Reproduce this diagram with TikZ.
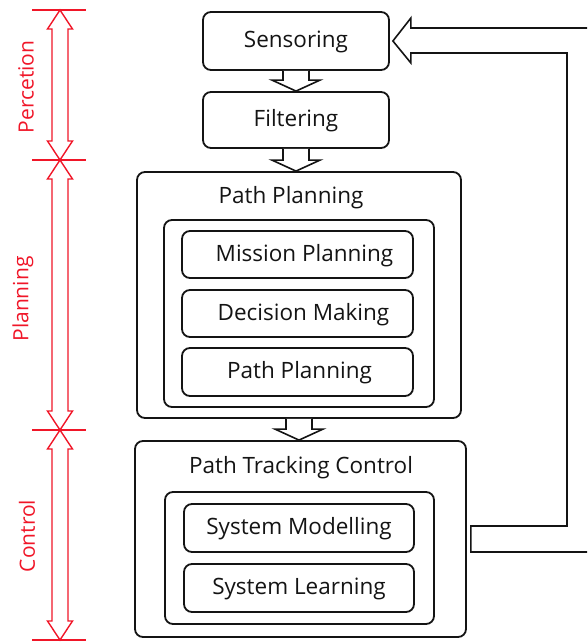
\documentclass[tikz,border=0pt]{standalone}
\usepackage{fontspec}
\setmainfont{Open Sans}
\usetikzlibrary{calc}
\definecolor{lblred}{RGB}{240,22,40}
\definecolor{ink}{RGB}{20,20,20}

% hollow block arrow pointing down from the bottom of #1 to the top of #2
\newcommand{\hollowdown}[2]{%
  \coordinate (hs) at (#1.south);
  \coordinate (ht) at (#1.south |- #2.north);
  \draw[hollow] ($(hs)+(-13,0)$) -- ($(ht)+(-13,-11)$) -- ($(ht)+(-24,-11)$) -- (ht)
    -- ($(ht)+(24,-11)$) -- ($(ht)+(13,-11)$) -- ($(hs)+(13,0)$);
}
% red two-headed block arrow between two marks
\newcommand{\phasearrow}[2]{%
  \draw[redarrow] (#1) -- ($(#1)+(12.5,19)$) -- ($(#1)+(8,19)$) -- ($(#2)+(8,-19)$)
    -- ($(#2)+(12.5,-19)$) -- (#2) -- ($(#2)+(-12.5,-19)$) -- ($(#2)+(-8,-19)$)
    -- ($(#1)+(-8,19)$) -- ($(#1)+(-12.5,19)$) -- cycle;
}

\begin{document}
\begin{tikzpicture}[x=1pt,y=-1pt,
  box/.style={draw=ink, line width=1.8pt, rounded corners=8pt, inner sep=0pt},
  txt/.style={font=\fontsize{22.5}{26}\selectfont, text=ink, text height=16pt, text depth=3pt},
  hollow/.style={draw=ink, line width=1.6pt, fill=white, line join=miter},
  redarrow/.style={draw=lblred, line width=1.4pt, line join=miter},
  tick/.style={draw=lblred, line width=1.4pt},
  phase/.style={text=lblred, font=\fontsize{21}{24}\selectfont, rotate=90}]
\useasboundingbox (0,0) rectangle (587,642);

% perception stage
\node[box, txt, minimum width=186pt, minimum height=58pt] (sens) at (296,41) {Sensoring};
\node[box, txt, minimum width=186pt, minimum height=56pt] (filt) at (296,120) {Filtering};

% planning stage
\node[box, minimum width=324pt, minimum height=246pt] (pp) at (299,295) {};
\node[txt] (pptitle) at (291,197) {Path Planning};
\node[box, minimum width=270pt, minimum height=187pt] (ppin) at (299,313.5) {};
\node[box, txt, minimum width=231pt, minimum height=47pt] (mission) at (297.5,254.5) {\hspace*{14pt}Mission Planning};
\node[box, txt, minimum width=231pt, minimum height=47pt] (decision) at (297.5,313.5) {\hspace*{12pt}Decision Making};
\node[box, txt, minimum width=231pt, minimum height=48pt] (pathpl) at (297.5,372) {\hspace*{4pt}Path Planning};

% control stage
\node[box, minimum width=331pt, minimum height=196pt] (ptc) at (300.5,539) {};
\node[txt] (ptctitle) at (301,467) {Path Tracking Control};
\node[box, minimum width=269pt, minimum height=132pt] (ptcin) at (299.5,558) {};
\node[box, txt, minimum width=230pt, minimum height=48pt] (sysmod) at (299,528) {System Modelling};
\node[box, txt, minimum width=230pt, minimum height=48pt] (syslearn) at (299,588) {System Learning};

% flow arrows
\hollowdown{sens}{filt}
\hollowdown{filt}{pp}
\hollowdown{pp}{ptc}

% feedback arrow from control back to sensing
\coordinate (fbtip) at ($(sens.east)+(3,0)$);
\coordinate (fbout) at ($(ptc.east)+(4,0)$);
\coordinate (fbend1) at (587,552);
\coordinate (fbend2) at (587,28);
\coordinate (fbcorner) at (567,53);
\draw[hollow, fill=none] (fbend1) -- ($(fbout)+(0,13)$) -- ($(fbout)+(0,-13)$)
  -- ($(fbout -| fbcorner)+(0,-13)$) -- (fbcorner) -- ($(fbtip)+(18,12)$) -- ($(fbtip)+(18,22)$)
  -- (fbtip) -- ($(fbtip)+(18,-23)$) -- ($(fbtip)+(18,-13)$) -- (fbend2);

% stage marks on the left
\foreach \y/\n in {10/m0,160/m1,430/m2,640/m3}{
  \coordinate (\n) at (60,\y);
  \draw[tick] ($(\n)+(-28,0)$) -- ($(\n)+(26,0)$);
}
\phasearrow{m0}{m1}
\phasearrow{m1}{m2}
\phasearrow{m2}{m3}

\node[phase] (lperc) at (26,87) {Percetion};
\node[phase] (lplan) at (23,299) {Planning};
\node[phase] (lctrl) at (27,536) {Control};
\end{tikzpicture}
\end{document}
